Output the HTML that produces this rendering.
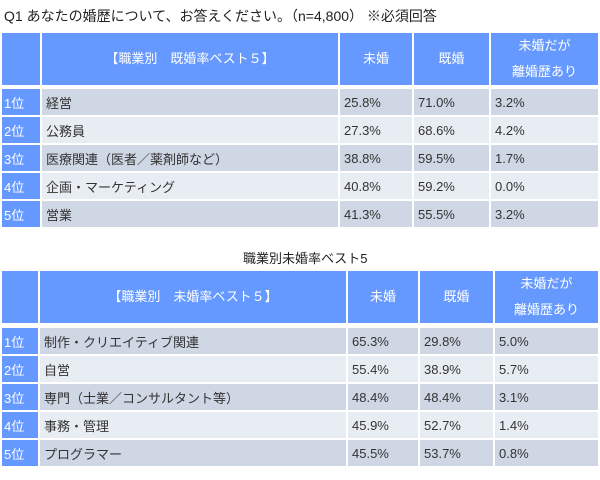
<!DOCTYPE html>
<html><head><meta charset="utf-8"><style>
body{margin:0;width:600px;height:480px;background:#fff;position:relative;overflow:hidden;font-family:"Liberation Sans","Noto Sans CJK JP",sans-serif;font-size:13px;color:#333}
.c{position:absolute;box-sizing:border-box;display:flex;align-items:center;padding-left:4px;white-space:nowrap}
.h{background:#6699ff;color:#fff;justify-content:center;padding:0;text-align:center;line-height:26px}
.r{background:#6699ff;color:#fff;padding-left:2px}
.o{background:#cfd6e4}.e{background:#e8edf4}
.t{position:absolute;font-size:14px;color:#222;white-space:nowrap}
</style></head><body>
<div class="t" style="left:4px;top:6px">Q1 あなたの婚歴について、お答えください。（n=4,800）&nbsp;※必須回答</div>
<div id="t1"></div>
<div class="t" style="left:243px;top:248px;font-size:13px">職業別未婚率ベスト5</div>
<div id="t2"></div>
<script>
const jobs1=["経営","公務員","医療関連（医者／薬剤師など）","企画・マーケティング","営業"];
const unmarried1=["25.8%","27.3%","38.8%","40.8%","41.3%"];
const married1=["71.0%","68.6%","59.5%","59.2%","55.5%"];
const divorced1=["3.2%","4.2%","1.7%","0.0%","3.2%"];
const jobs2=["制作・クリエイティブ関連","自営","専門（士業／コンサルタント等）","事務・管理","プログラマー"];
const unmarried2=["65.3%","55.4%","48.4%","45.9%","45.5%"];
const married2=["29.8%","38.9%","48.4%","52.7%","53.7%"];
const divorced2=["5.0%","5.7%","3.1%","1.4%","0.8%"];
function cell(p,cls,x,y,w,h,html,name){
 const d=document.createElement('div');d.className='c '+cls;
 d.style.left=x+'px';d.style.top=y+'px';d.style.width=w+'px';d.style.height=h+'px';
 d.innerHTML=html;
 
 
 p.appendChild(d);}
function table(id,cols,hy,hh,ry,title,jobs,u,m,dv){
 const p=document.getElementById(id);
 const heads=["",title,"未婚","既婚","未婚だが<br>離婚歴あり"];
 for(let i=0;i<5;i++) cell(p,'h',cols[i],hy,cols[i+1]-cols[i]-2,hh,heads[i],'header-cell');
 for(let r=0;r<5;r++){
  const y=ry+r*28, cls=r%2?'e':'o';
  const vals=[(r+1)+"位",jobs[r],u[r],m[r],dv[r]];
  for(let i=0;i<5;i++) cell(p,i==0?'r':cls,cols[i],y,cols[i+1]-cols[i]-2,26,vals[i],i==0?'rank-cell':'data-cell');
 }
}
table('t1',[2,42,340,414,491,600],33,52,89,"【職業別　既婚率ベスト５】",jobs1,unmarried1,married1,divorced1);
table('t2',[2,40,348,420,495,600],271,52,328,"【職業別　未婚率ベスト５】",jobs2,unmarried2,married2,divorced2);
</script>
</body></html>
